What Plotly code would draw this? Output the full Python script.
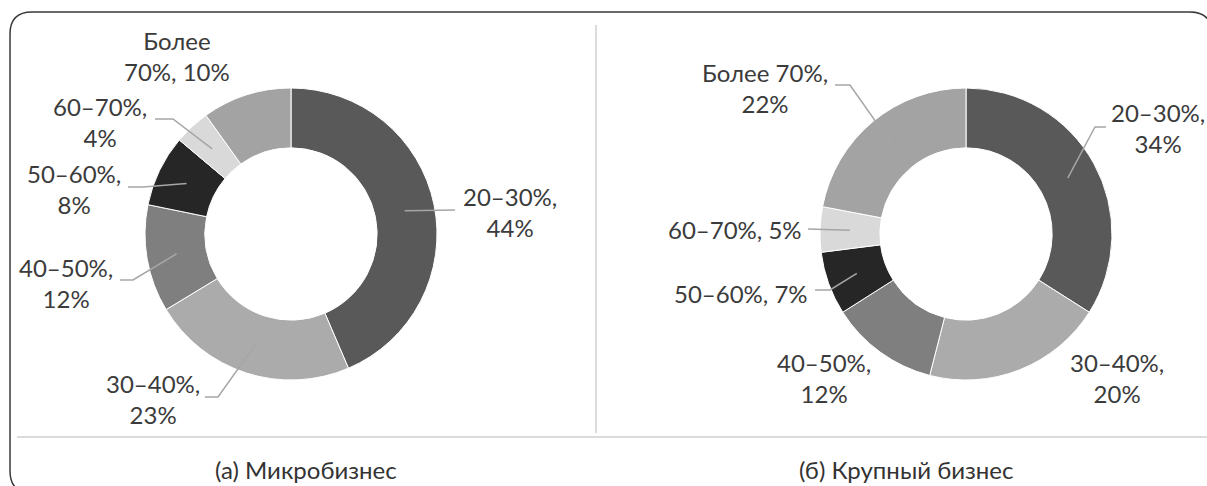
import math
import plotly.graph_objects as go

# ---------------- data ----------------
categories = ["20–30%", "30–40%", "40–50%", "50–60%", "60–70%", "Более 70%"]
micro_values = [44, 23, 12, 8, 4, 10]
large_values = [34, 20, 12, 7, 5, 22]
captions = ["(а) Микробизнес", "(б) Крупный бизнес"]

# label texts (as in the picture)
micro_labels = ["20–30%,<br>44%", "30–40%,<br>23%", "40–50%,<br>12%",
                "50–60%,<br>8%", "60–70%,<br>4%", "Более<br>70%, 10%"]
large_labels = ["20–30%,<br>34%", "30–40%,<br>20%", "40–50%,<br>12%",
                "50–60%, 7%", "60–70%, 5%", "Более 70%,<br>22%"]

# ---------------- styles / layout ----------------
W, H = 1207, 486
colors = ["#595959", "#ababab", "#7f7f7f", "#262626", "#d9d9d9", "#a3a3a3"]
FONT = "Lato"
FSIZE = 24
TEXT_COLOR = "#3b3b3b"
R_OUT = 146
HOLE = 0.59
centers = [(291, 234), (966, 234)]

# label centres (px) and leader-line bend points (px) per slice
micro_label_pos = [(510, 212), (153, 399), (66, 283), (74, 189), (100, 122), (177, 56)]
large_label_pos = [(1158, 128), (1117, 378), (824, 378), (741, 293), (735, 230), (765, 88)]
micro_leaders = [[(455, 210)], [(218, 397), (205, 397)], [(133, 280), (120, 280)],
                 [(143, 187), (128, 187)], [(173, 119), (155, 119)], None]
large_leaders = [[(1095, 127), (1106, 127)], None, None,
                 [(830, 290), (815, 290)], [(808, 229)], [(850, 85), (835, 85)]]
caption_pos = [(306, 469), (906, 469)]


def px(x, y):
    return x / W, 1 - y / H


fig = go.Figure()
shapes = []
annotations = []

for (cx, cy), values, labels, lpos, leaders in [
    (centers[0], micro_values, micro_labels, micro_label_pos, micro_leaders),
    (centers[1], large_values, large_labels, large_label_pos, large_leaders),
]:
    x0, y1 = px(cx - R_OUT, cy - R_OUT)
    x1, y0 = px(cx + R_OUT, cy + R_OUT)
    fig.add_trace(go.Pie(
        labels=categories, values=values, sort=False, direction="clockwise",
        rotation=0, hole=HOLE, textinfo="none", hoverinfo="label+value",
        marker=dict(colors=colors, line=dict(color="white", width=1)),
        domain=dict(x=[x0, x1], y=[y0, y1]), showlegend=False,
    ))
    total = sum(values)
    cum = 0
    r_mid = R_OUT * (1 + HOLE) / 2
    for v, lab, (lx, ly), pts in zip(values, labels, lpos, leaders):
        mid = (cum + v / 2) / total * 2 * math.pi
        cum += v
        sx = cx + r_mid * math.sin(mid)
        sy = cy - r_mid * math.cos(mid)
        if pts:
            path_pts = [(sx, sy)] + pts
            d = "M " + " L ".join("%.4f,%.4f" % px(a, b) for a, b in path_pts)
            shapes.append(dict(type="path", path=d, xref="paper", yref="paper",
                               line=dict(color="#a6a6a6", width=1.5)))
        ax, ay = px(lx, ly)
        annotations.append(dict(x=ax, y=ay, xref="paper", yref="paper", text=lab,
                                showarrow=False, xanchor="center", yanchor="middle",
                                align="center",
                                font=dict(family=FONT, size=FSIZE, color=TEXT_COLOR)))

# captions
for (cx, cy), cap in zip(caption_pos, captions):
    ax, ay = px(cx, cy)
    annotations.append(dict(x=ax, y=ay, xref="paper", yref="paper", text=cap,
                            showarrow=False, xanchor="center", yanchor="middle",
                            font=dict(family=FONT, size=FSIZE, color="#333333")))

# frame with rounded corners
r = 22
L, T, Rr, B = 10, 12, 1212, 493
frame_pts = [
    ("M", L + r, T), ("L", Rr - r, T), ("Q", Rr, T, Rr, T + r), ("L", Rr, B - r),
    ("Q", Rr, B, Rr - r, B), ("L", L + r, B), ("Q", L, B, L, B - r), ("L", L, T + r),
    ("Q", L, T, L + r, T),
]
d = ""
for p in frame_pts:
    cmd = p[0]
    coords = p[1:]
    pairs = [px(coords[i], coords[i + 1]) for i in range(0, len(coords), 2)]
    d += cmd + " " + " ".join("%.4f,%.4f" % q for q in pairs) + " "
shapes.append(dict(type="path", path=d.strip(), xref="paper", yref="paper",
                   line=dict(color="#3a3a3a", width=1.5)))

# divider lines
vx0, vy0 = px(596, 25)
vx1, vy1 = px(596, 433)
shapes.append(dict(type="line", x0=vx0, y0=vy0, x1=vx1, y1=vy1, xref="paper", yref="paper",
                   line=dict(color="#d0d0d0", width=1.5)))
hx0, hy0 = px(17, 437)
hx1, hy1 = px(1212, 437)
shapes.append(dict(type="line", x0=hx0, y0=hy0, x1=hx1, y1=hy1, xref="paper", yref="paper",
                   line=dict(color="#cfcfcf", width=1.5)))

fig.update_layout(
    width=W, height=H, margin=dict(l=0, r=0, t=0, b=0),
    paper_bgcolor="white", plot_bgcolor="white",
    shapes=shapes, annotations=annotations,
)

fig.write_html("out.html", config={"displayModeBar": False},
               post_script="document.body.style.margin='0';")
